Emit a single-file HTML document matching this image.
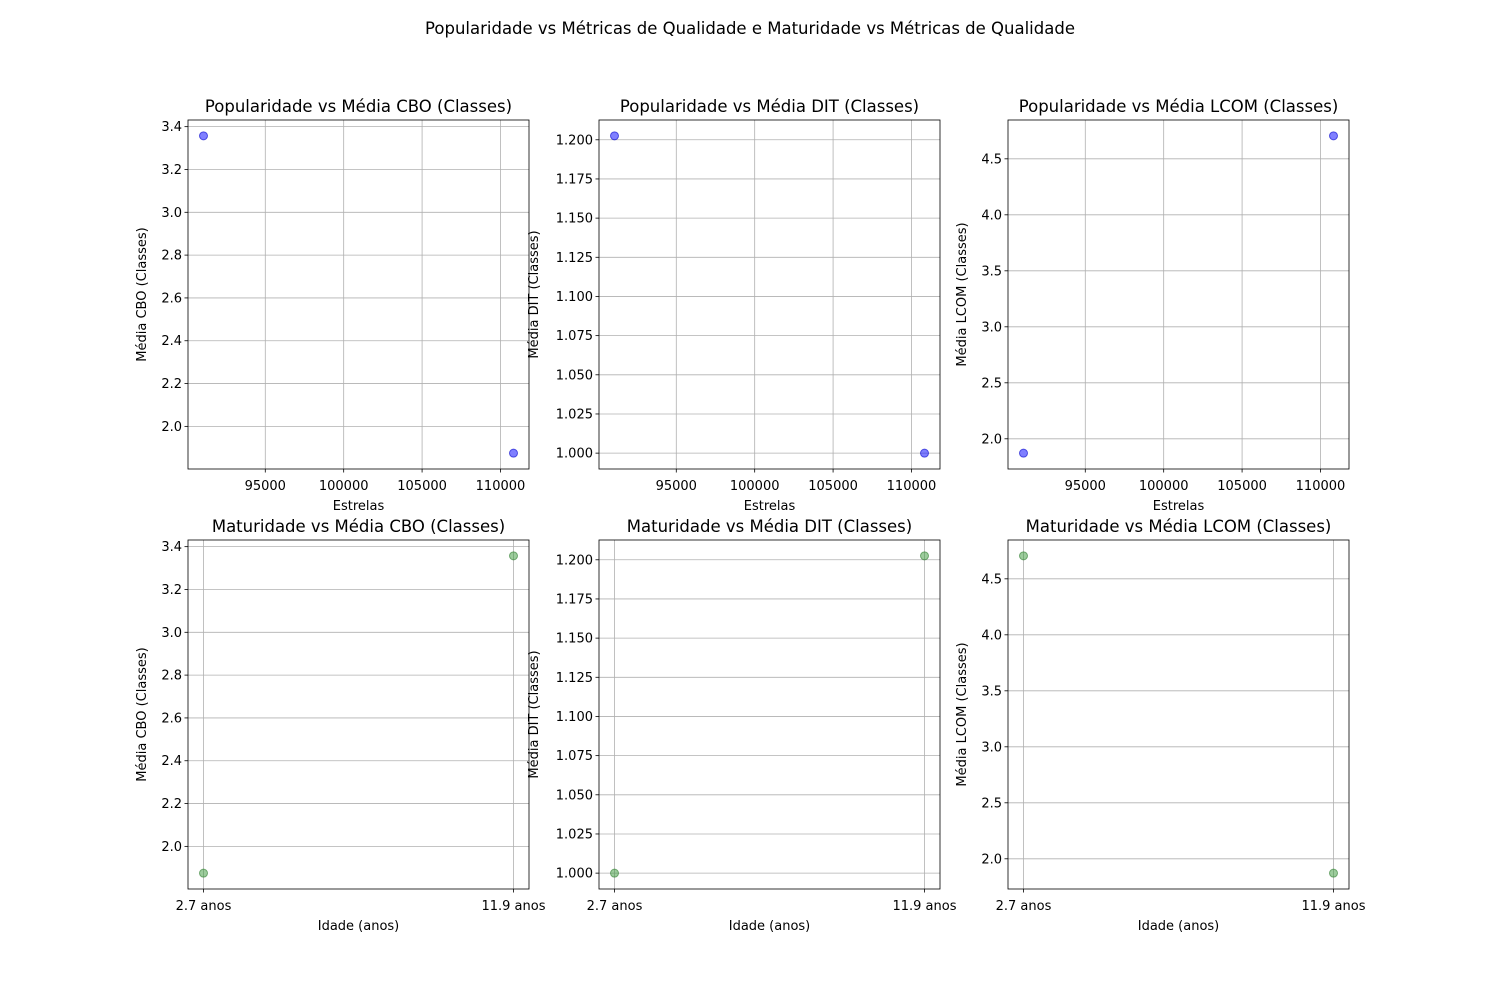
<!DOCTYPE html>
<html><head><meta charset="utf-8"><style>body{margin:0;background:#fff}svg{display:block;font-family:"DejaVu Sans","Liberation Sans",sans-serif}</style></head>
<body>
<svg id="c" width="1500" height="1000"></svg>
<script>
const stars = [91060, 110830];
const ages = ["2.7 anos", "11.9 anos"];
const cbo = [3.357, 1.875];
const dit = [1.2025, 1.0];
const lcom = [1.872, 4.705];
const ageCbo = [1.875, 3.357];
const ageDit = [1.0, 1.2025];
const ageLcom = [4.705, 1.872];
const starTicks = [95000, 100000, 105000, 110000];
const cboTicks = [2.0, 2.2, 2.4, 2.6, 2.8, 3.0, 3.2, 3.4];
const ditTicks = [1.0, 1.025, 1.05, 1.075, 1.1, 1.125, 1.15, 1.175, 1.2];
const lcomTicks = [2.0, 2.5, 3.0, 3.5, 4.0, 4.5];

const NS = "http://www.w3.org/2000/svg";
const svg = document.getElementById('c');
function el(tag, attrs, parent, text){
  const e = document.createElementNS(NS, tag);
  for (const k in attrs) e.setAttribute(k, attrs[k]);
  if (text !== undefined) e.textContent = text;
  (parent || svg).appendChild(e);
  return e;
}
function dom(v){const a=Math.min(...v),b=Math.max(...v),m=(b-a)*0.05;return [a-m,b+m];}
function panel(x0,y0,title,xs,ys,xTicks,xLabels,yTicks,yDec,xlabel,ylabel,color,edge,ylx,name){
  const w=341,h=349;
  const g=el('g',{});
  
  
  const xd=dom(xs), yd=dom(ys);
  const sx=v=>x0+(v-xd[0])/(xd[1]-xd[0])*w;
  const sy=v=>y0+h-(v-yd[0])/(yd[1]-yd[0])*h;
  xTicks.forEach((t,i)=>{const x=sx(t);
    el('line',{x1:x,x2:x,y1:y0,y2:y0+h,stroke:'#b0b0b0','stroke-width':0.8},g);
    el('line',{x1:x,x2:x,y1:y0+h,y2:y0+h+3.5,stroke:'#000','stroke-width':0.8},g);
    const tx=el('text',{x:x,y:y0+h+21,'font-size':13,'text-anchor':'middle'},g,xLabels[i]);
    
    
  });
  yTicks.forEach(t=>{const y=sy(t);
    el('line',{x1:x0,x2:x0+w,y1:y,y2:y,stroke:'#b0b0b0','stroke-width':0.8},g);
    el('line',{x1:x0-3.5,x2:x0,y1:y,y2:y,stroke:'#000','stroke-width':0.8},g);
    const ty=el('text',{x:x0-6,y:y+4.5,'font-size':13,'text-anchor':'end'},g,t.toFixed(yDec));
    
    
  });
  el('rect',{x:x0,y:y0,width:w,height:h,fill:'none',stroke:'#000','stroke-width':0.8},g);
  xs.forEach((v,i)=>{
    const p=el('circle',{cx:sx(v),cy:sy(ys[i]),r:4,fill:color,'fill-opacity':0.5,stroke:edge,'stroke-opacity':0.6,'stroke-width':1},g);
    
    
  });
  const tt=el('text',{x:x0+w/2,y:y0-8,'font-size':16.5,'text-anchor':'middle'},g,title);
  
  
  const xl=el('text',{x:x0+w/2,y:y0+h+41,'font-size':13,'text-anchor':'middle'},g,xlabel);
  
  
  const cy=y0+h/2;
  const yl=el('text',{x:ylx,y:cy,'font-size':13,'text-anchor':'middle',transform:`rotate(-90 ${ylx} ${cy})`},g,ylabel);
  
  
}
const st=el('text',{x:750,y:34,'font-size':16.5,'text-anchor':'middle'},svg,'Popularidade vs Métricas de Qualidade e Maturidade vs Métricas de Qualidade');


const sL=starTicks.map(String);
const X=[188,599,1008], Y=[120,540];
const YL=[146,538,966];
const B='#0000ff', BE='#0000cc', G='#3a9a3a', GE='#2e7d2e';
panel(X[0],Y[0],'Popularidade vs Média CBO (Classes)',stars,cbo,starTicks,sL,cboTicks,1,'Estrelas','Média CBO (Classes)',B,BE,YL[0],'panel-stars-cbo');
panel(X[1],Y[0],'Popularidade vs Média DIT (Classes)',stars,dit,starTicks,sL,ditTicks,3,'Estrelas','Média DIT (Classes)',B,BE,YL[1],'panel-stars-dit');
panel(X[2],Y[0],'Popularidade vs Média LCOM (Classes)',stars,lcom,starTicks,sL,lcomTicks,1,'Estrelas','Média LCOM (Classes)',B,BE,YL[2],'panel-stars-lcom');
const ai=ages.map((_,i)=>i);
panel(X[0],Y[1],'Maturidade vs Média CBO (Classes)',ai,ageCbo,ai,ages,cboTicks,1,'Idade (anos)','Média CBO (Classes)',G,GE,YL[0],'panel-age-cbo');
panel(X[1],Y[1],'Maturidade vs Média DIT (Classes)',ai,ageDit,ai,ages,ditTicks,3,'Idade (anos)','Média DIT (Classes)',G,GE,YL[1],'panel-age-dit');
panel(X[2],Y[1],'Maturidade vs Média LCOM (Classes)',ai,ageLcom,ai,ages,lcomTicks,1,'Idade (anos)','Média LCOM (Classes)',G,GE,YL[2],'panel-age-lcom');
</script>
</body></html>
